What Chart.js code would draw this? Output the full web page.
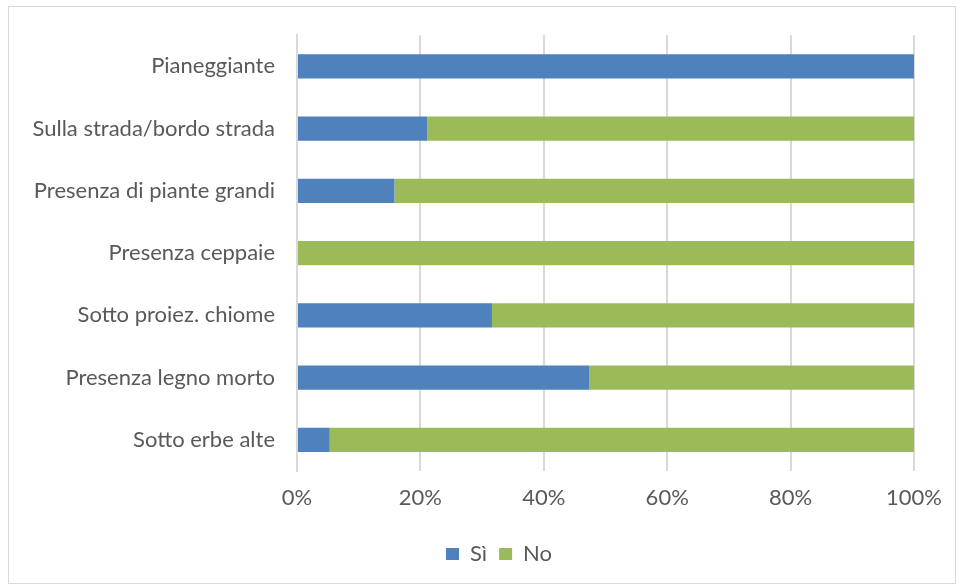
<!DOCTYPE html>
<html>
<head>
<meta charset="utf-8">
<script src="https://cdn.jsdelivr.net/npm/chart.js@4"></script>
<style>
  html, body { margin: 0; padding: 0; background: #fff; }
  #wrap { position: relative; width: 959px; height: 587px; }
  #frame { position: absolute; left: 8px; top: 6px; width: 948px; height: 578px; border: 1px solid #d9d9d9; box-sizing: border-box; pointer-events: none; }
</style>
</head>
<body>
<div id="wrap">
  <canvas id="chart" width="959" height="587"></canvas>
  <div id="frame"></div>
</div>
<script>
const categories = [
  'Pianeggiante',
  'Sulla strada/bordo strada',
  'Presenza di piante grandi',
  'Presenza ceppaie',
  'Sotto proiez. chiome',
  'Presenza legno morto',
  'Sotto erbe alte'
]
const siValues = [100, 21.1, 15.8, 0, 31.6, 47.4, 5.3]
const noValues = [0, 78.9, 84.2, 100, 68.4, 52.6, 94.7]
const xTicks = ['0%', '20%', '40%', '60%', '80%', '100%']

const font = "Lato, 'Open Sans', sans-serif"
const textColor = '#595959'

// nudge the legend a little to the right, like the original
const legendShift = {
  id: 'legendShift',
  afterLayout(chart) {
    chart.legend.left += 42
    chart.legend.right += 42
  }
}

const ctx = document.getElementById('chart').getContext('2d')

new Chart(ctx, {
  type: 'bar',
  data: {
    labels: categories,
    datasets: [{
      label: 'Sì',
      data: siValues,
      backgroundColor: '#4F81BD',
      borderWidth: 0,
      barPercentage: 0.39,
      categoryPercentage: 1
    }, {
      label: 'No',
      data: noValues,
      backgroundColor: '#9BBB59',
      borderWidth: 0,
      barPercentage: 0.39,
      categoryPercentage: 1
    }]
  },
  plugins: [legendShift],
  options: {
    indexAxis: 'y',
    responsive: false,
    animation: false,
    layout: {
      padding: { top: 35, right: 45, left: 0, bottom: 12 }
    },
    plugins: {
      legend: {
        position: 'bottom',
        labels: {
          boxWidth: 13,
          boxHeight: 12,
          padding: 12,
          color: textColor,
          font: { family: font, size: 22 }
        }
      },
      tooltip: { enabled: false }
    },
    scales: {
      x: {
        stacked: true,
        min: 0,
        max: 100,
        border: { display: false },
        grid: {
          color: '#d9d9d9',
          lineWidth: 2,
          drawTicks: false
        },
        ticks: {
          stepSize: 20,
          padding: 14,
          color: textColor,
          font: { family: font, size: 22 },
          callback: (v, i) => xTicks[i]
        },
        afterFit: scale => { scale.height = 60 }
      },
      y: {
        stacked: true,
        border: { display: true, color: '#d9d9d9', width: 2 },
        grid: { display: false, drawTicks: false },
        ticks: {
          padding: 22,
          color: textColor,
          font: { family: font, size: 22 }
        },
        afterFit: scale => { scale.width = 297 }
      }
    }
  }
})
</script>
</body>
</html>
